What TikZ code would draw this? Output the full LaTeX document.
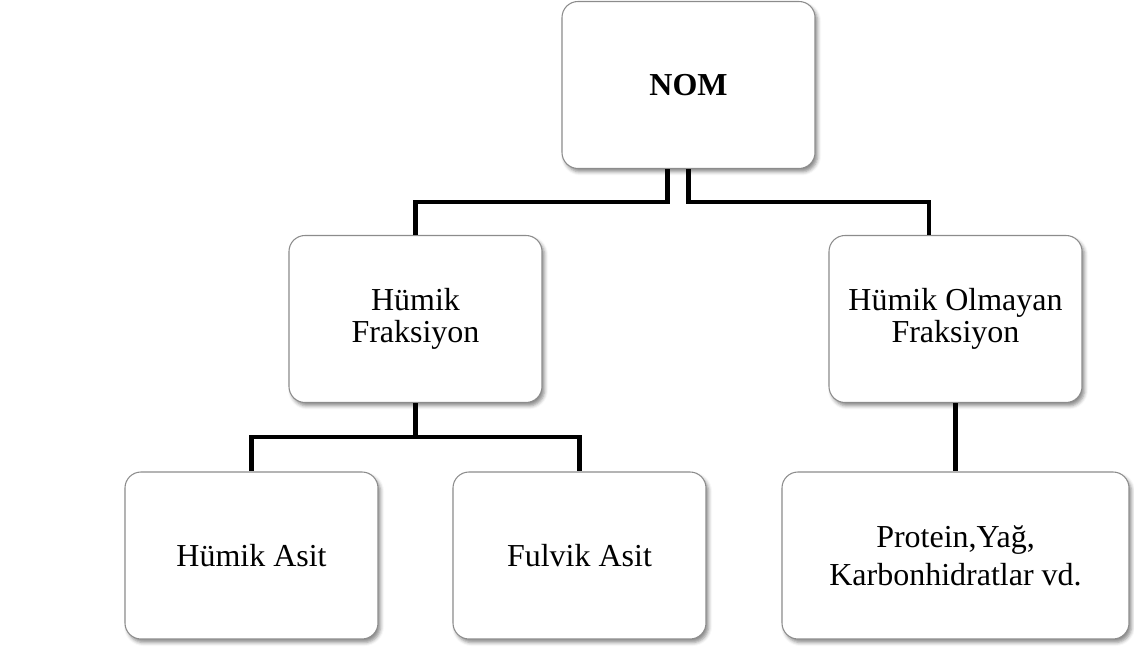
\documentclass[tikz,border=0pt]{standalone}
\usepackage{fontspec}
\setmainfont{Liberation Serif}
\usetikzlibrary{shadows.blur}

\tikzset{
  kutu/.style={draw=black!45, line width=0.6pt, fill=white, rounded corners=0.32cm,
    minimum width=5.06cm, minimum height=3.34cm, align=center,
    font=\fontsize{18.2}{18.6}\selectfont,
    blur shadow={shadow xshift=0.05cm, shadow yshift=-0.07cm, shadow blur radius=0.07cm, shadow opacity=45}},
  hat/.style={line width=2.4pt, black}
}

\begin{document}
\begin{tikzpicture}
\useasboundingbox (0,0) rectangle (22.68,12.92);

% Kutular
\node[kutu] (nom) at (13.77,11.22) {\textbf{NOM}};
\node[kutu] (humfr) at (8.31,6.54) {Hümik\\Fraksiyon};
\node[kutu] (nonhum) at (19.11,6.54) {Hümik Olmayan\\Fraksiyon};
\node[kutu] (humasit) at (5.03,1.81) {Hümik Asit};
\node[kutu] (fulvik) at (11.59,1.81) {Fulvik Asit};
\node[kutu, minimum width=6.94cm, font=\fontsize{18.2}{21.8}\selectfont] (protein) at (19.11,1.81) {Protein,Yağ,\\Karbonhidratlar vd.};

% Baglantilar
\draw[hat] ([xshift=-0.42cm]nom.south) -- ++(0,-0.66) -| (humfr.north);
\draw[hat] (nom.south) -- ++(0,-0.66) -| ([xshift=-0.53cm]nonhum.north);
\draw[hat] (humfr.south) -- ++(0,-0.68) coordinate (ayrim);
\draw[hat] (ayrim) -| (humasit.north);
\draw[hat] (ayrim) -| (fulvik.north);
\draw[hat] (nonhum.south) -- (protein.north);

\end{tikzpicture}
\end{document}
